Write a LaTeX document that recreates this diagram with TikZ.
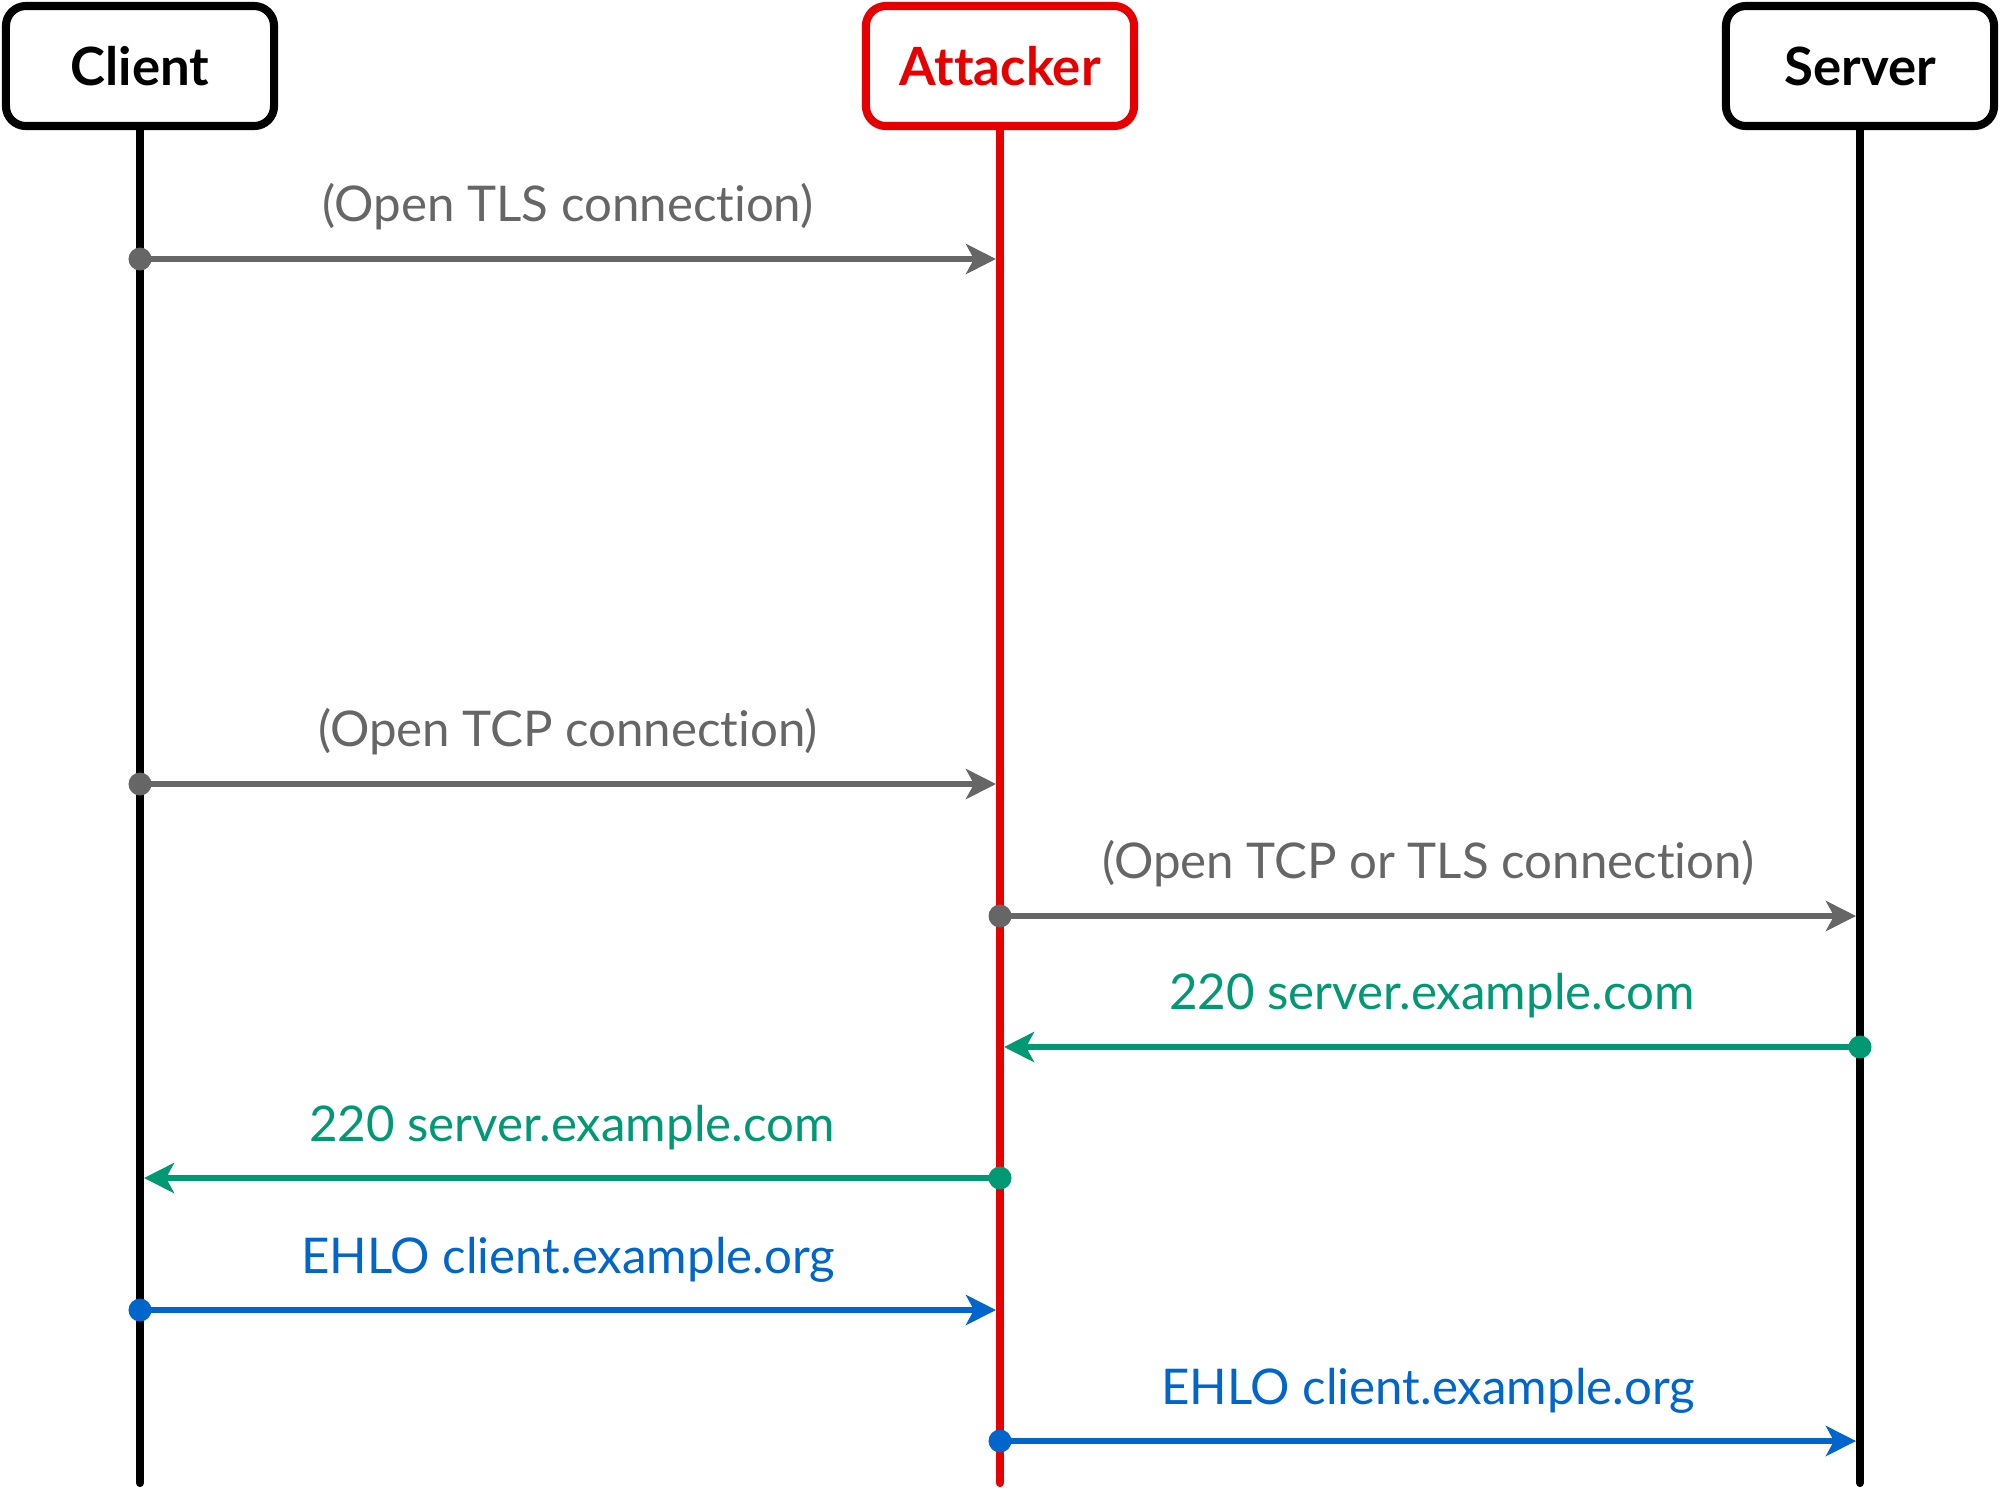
\documentclass[tikz,border=0pt]{standalone}
\usepackage{fontspec}
\setmainfont{Lato}[RawFeature={-liga;-clig;-dlig}]
\usetikzlibrary{arrows.meta}
\definecolor{msggrey}{RGB}{102,102,102}
\definecolor{msggreen}{RGB}{0,153,115}
\definecolor{msgblue}{RGB}{0,102,204}
\definecolor{attackred}{RGB}{230,0,0}
\tikzset{
  party/.style={draw, rounded corners=0.2cm, line width=2.3pt, minimum width=2.68cm,
    minimum height=1.2cm, inner sep=0pt, font=\fontsize{15pt}{18pt}\selectfont\bfseries},
  lifeline/.style={line width=2.3pt, line cap=round},
  msg/.style={line width=1.95pt, -{Stealth[length=0.3cm, width=0.3cm, inset=0.08cm]}},
  msglabel/.style={midway, anchor=base, yshift=0.37cm, inner sep=0pt,
    font=\fontsize{14pt}{17pt}\selectfont},
  startdot/.style={radius=0.115cm}
}
\begin{document}
\begin{tikzpicture}[x=0.01cm, y=-0.01cm]
  \useasboundingbox (0,0) rectangle (2000,1487);

  % participants
  \node[party] (client) at (140,66) {Client};
  \node[party, draw=attackred, text=attackred] (attacker) at (1000,66) {Attacker};
  \node[party] (server) at (1860,66) {Server};

  % lifeline ends
  \coordinate (clientend) at (140,1483);
  \coordinate (attackerend) at (1000,1483);
  \coordinate (serverend) at (1860,1483);

  \draw[lifeline] (client.south) -- (clientend);
  \draw[lifeline, attackred] (attacker.south) -- (attackerend);
  \draw[lifeline] (server.south) -- (serverend);

  % message end points
  \coordinate (c1) at (140,259);   \coordinate (a1) at (996,259);
  \coordinate (c2) at (140,784);   \coordinate (a2) at (996,784);
  \coordinate (a3) at (1000,916);  \coordinate (s3) at (1856,916);
  \coordinate (s4) at (1860,1047); \coordinate (a4) at (1004,1047);
  \coordinate (a5) at (1000,1178); \coordinate (c5) at (144,1178);
  \coordinate (c6) at (140,1310);  \coordinate (a6) at (996,1310);
  \coordinate (a7) at (1000,1441); \coordinate (s7) at (1856,1441);

  % messages
  \draw[msg, msggrey] (c1) -- (a1) node[msglabel, text=msggrey] {(Open TLS connection)};
  \fill[msggrey] (c1) circle[startdot];

  \draw[msg, msggrey] (c2) -- (a2) node[msglabel, text=msggrey] {(Open TCP connection)};
  \fill[msggrey] (c2) circle[startdot];

  \draw[msg, msggrey] (a3) -- (s3) node[msglabel, text=msggrey] {(Open TCP or TLS connection)};
  \fill[msggrey] (a3) circle[startdot];

  \draw[msg, msggreen] (s4) -- (a4) node[msglabel, text=msggreen] {220 server.example.com};
  \fill[msggreen] (s4) circle[startdot];

  \draw[msg, msggreen] (a5) -- (c5) node[msglabel, text=msggreen] {220 server.example.com};
  \fill[msggreen] (a5) circle[startdot];

  \draw[msg, msgblue] (c6) -- (a6) node[msglabel, text=msgblue] {EHLO client.example.org};
  \fill[msgblue] (c6) circle[startdot];

  \draw[msg, msgblue] (a7) -- (s7) node[msglabel, text=msgblue] {EHLO client.example.org};
  \fill[msgblue] (a7) circle[startdot];
\end{tikzpicture}
\end{document}
